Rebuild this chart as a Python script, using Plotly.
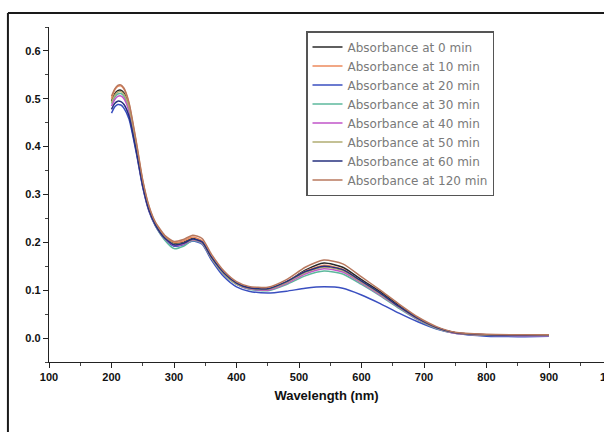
import plotly.graph_objects as go

# Wavelength grid (nm)
wavelength = [200, 205, 210, 215, 220, 228, 240, 250, 260, 270, 285, 300, 315, 330, 345,
              360, 380, 400, 420, 450, 480, 510, 540, 570, 600, 630, 660, 690, 720, 750,
              800, 850, 900]

abs_0 = [.495, .510, .517, .518, .512, .485, .400, .325, .272, .240, .212, .198, .200, .208, .200,
         .168, .135, .114, .104, .101, .117, .142, .157, .148, .122, .097, .068, .042, .022, .011,
         .007, .006, .006]
abs_10 = [.500, .518, .526, .527, .520, .490, .405, .328, .274, .241, .213, .200, .203, .211, .203,
          .170, .136, .115, .106, .104, .118, .140, .152, .144, .118, .093, .065, .040, .021, .011,
          .007, .006, .006]
abs_20 = [.470, .483, .488, .487, .480, .458, .385, .315, .265, .235, .207, .192, .195, .203, .196,
          .163, .128, .107, .098, .094, .098, .104, .107, .104, .090, .072, .052, .034, .019, .010,
          .004, .003, .004]
abs_30 = [.490, .503, .510, .511, .505, .478, .395, .320, .268, .236, .205, .187, .192, .204, .198,
          .166, .133, .112, .102, .099, .112, .130, .140, .134, .112, .088, .062, .038, .020, .010,
          .006, .005, .005]
abs_40 = [.485, .498, .505, .506, .500, .474, .392, .318, .267, .237, .208, .194, .196, .205, .199,
          .167, .134, .113, .103, .100, .114, .134, .145, .138, .115, .090, .064, .039, .021, .010,
          .006, .005, .005]
abs_50 = [.492, .507, .514, .515, .509, .482, .398, .322, .270, .238, .210, .196, .198, .206, .200,
          .167, .134, .113, .104, .102, .116, .137, .148, .141, .117, .092, .065, .040, .021, .011,
          .006, .006, .006]
abs_60 = [.478, .490, .495, .494, .488, .464, .388, .317, .267, .237, .209, .195, .198, .207, .201,
          .169, .136, .115, .105, .103, .118, .139, .150, .143, .119, .094, .066, .041, .022, .011,
          .007, .006, .007]
abs_120 = [.505, .520, .528, .529, .522, .492, .408, .330, .276, .243, .215, .202, .206, .215, .208,
           .175, .140, .118, .108, .106, .122, .148, .163, .155, .128, .100, .071, .044, .024, .012,
           .008, .007, .007]

series_names = ["Absorbance at 0 min", "Absorbance at 10 min", "Absorbance at 20 min",
                "Absorbance at 30 min", "Absorbance at 40 min", "Absorbance at 50 min",
                "Absorbance at 60 min", "Absorbance at 120 min"]
series_values = [abs_0, abs_10, abs_20, abs_30, abs_40, abs_50, abs_60, abs_120]
series_colors = ["#2a2a2a", "#ec8a5c", "#3a4fc0", "#5cb89c", "#c154c8", "#b0ac72",
                 "#26307e", "#b8785e"]

x_range = [100, 988]
y_range = [-0.05, 0.65]

fig = go.Figure()
for name, vals, col in zip(series_names, series_values, series_colors):
    fig.add_trace(go.Scatter(x=wavelength, y=vals, mode="lines", name=name,
                             line=dict(color=col, width=1.5, shape="spline", smoothing=0.6)))

tick_font = dict(family="Liberation Sans", size=11, color="#111", weight="bold")

fig.update_layout(
    width=604, height=432,
    margin=dict(l=49, r=0, t=27, b=70),
    paper_bgcolor="white", plot_bgcolor="white",
    showlegend=True,
    legend=dict(x=(306 - 49) / 555, y=(362 - 31) / 335, xanchor="left", yanchor="top",
                bgcolor="white", bordercolor="#555", borderwidth=1.5,
                font=dict(family="DejaVu Sans", size=12, color="#7a7a7a"),
                tracegroupgap=0),
    xaxis=dict(range=x_range, dtick=100, tick0=100, showgrid=False, zeroline=False,
               showline=True, linecolor="#222", linewidth=1.3,
               ticks="outside", ticklen=5, tickwidth=1.2, tickcolor="#222",
               minor=dict(dtick=50, ticks="outside", ticklen=3, tickcolor="#444"),
               tickfont=tick_font,
               title=dict(text="Wavelength (nm)", standoff=8,
                          font=dict(family="Liberation Sans", size=13, color="#111",
                                    weight="bold"))),
    yaxis=dict(range=y_range, dtick=0.1, tick0=0, tickformat=".1f", showgrid=False,
               zeroline=False, showline=True, linecolor="#222", linewidth=1.3,
               ticks="outside", ticklen=5, tickwidth=1.2, tickcolor="#222",
               minor=dict(dtick=0.05, ticks="outside", ticklen=3, tickcolor="#444"),
               tickfont=tick_font),
)

# the last x tick label sits just past the visible plot edge
fig.add_annotation(text="1000", xref="paper", yref="paper",
                   x=(1000 - x_range[0]) / (x_range[1] - x_range[0]), y=0,
                   yshift=-15, showarrow=False, xanchor="center", yanchor="middle",
                   font=tick_font)

# outer frame (top and left edges visible)
fig.add_shape(type="line", xref="paper", yref="paper", x0=-0.074, x1=1.2, y0=1.042, y1=1.042,
              line=dict(color="#1a1a1a", width=2))
fig.add_shape(type="line", xref="paper", yref="paper", x0=-0.074, x1=-0.074, y0=1.042, y1=-0.4,
              line=dict(color="#1a1a1a", width=2))

fig.write_html("out.html")
